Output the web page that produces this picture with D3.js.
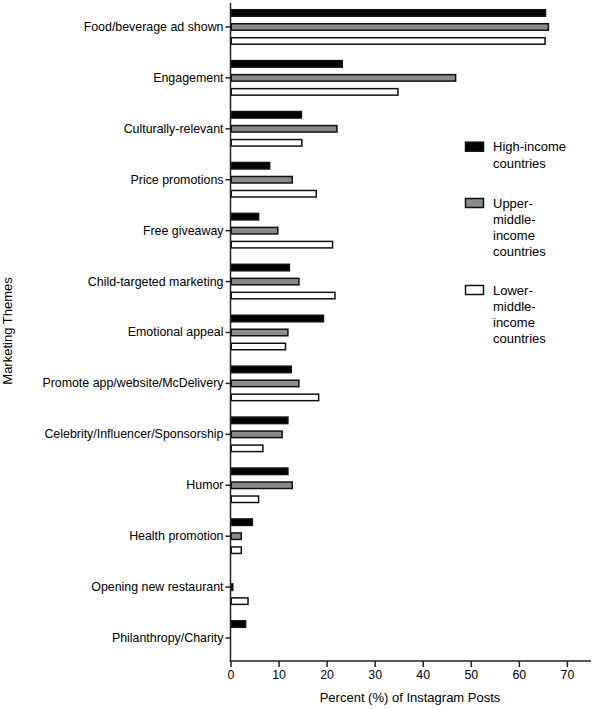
<!DOCTYPE html>
<html><head><meta charset="utf-8">
<script src="https://cdn.jsdelivr.net/npm/d3@7"></script>
<style>body{margin:0;background:#fff}svg{display:block;font-family:"Liberation Sans",Arial,sans-serif}</style>
</head><body><svg id="c" width="592" height="709"></svg>
<script>
const categories = ["Food/beverage ad shown","Engagement","Culturally-relevant","Price promotions","Free giveaway","Child-targeted marketing","Emotional appeal","Promote app/website/McDelivery","Celebrity/Influencer/Sponsorship","Humor","Health promotion","Opening new restaurant","Philanthropy/Charity"];
const seriesNames = ["High-income countries","Upper-middle-income countries","Lower-middle-income countries"];
const highIncome =  [65.7,23.4,14.9,8.3,6.0,12.4,19.5,12.8,12.1,12.1,4.7,0,3.3];
const upperMiddle = [66.3,47.0,22.3,13.0,10.0,14.4,12.1,14.4,10.9,13.0,2.4,0.6,0];
const lowerMiddle = [65.6,35.0,15.0,18.0,21.4,21.9,11.6,18.5,6.9,6.0,2.4,3.8,0];
const xTicks = [0,10,20,30,40,50,60,70];
const legendLines = [["High-income","countries"],["Upper-","middle-","income","countries"],["Lower-","middle-","income","countries"]];
const fills = ["#000000","#8a8a8a","#ffffff"];

const svg = d3.select("#c");
const x0 = 230.5, xEnd = 591, yTop = 3, yBot = 661;
const x = d3.scaleLinear().domain([0,75]).range([x0, x0 + 75*4.806]);
const y = d3.scaleBand().domain(categories).range([1.5, 663.5]);
const inner = d3.scalePoint().domain([0,1,2]).range([-14,14]);
const seriesVals = [highIncome, upperMiddle, lowerMiddle];

// bars
seriesVals.forEach((vals, s) => {
  svg.append("g").selectAll("rect").data(categories.map((c,i)=>({c, v: vals[i]})).filter(d=>d.v>0))
    .join("rect")
    .attr("x", x(0)+0.75)
    .attr("y", d => y(d.c) + y.bandwidth()/2 + inner(s) - 3.25)
    .attr("width", d => Math.max(1.5, x(d.v) - x(0) - 1.5))
    .attr("height", 6.5)
    .attr("fill", fills[s])
    .attr("stroke", "#111")
    .attr("stroke-width", 1.5);
});

// y axis
const yAxis = d3.axisLeft(y).tickSize(5).tickPadding(2).tickSizeOuter(0);
const gy = svg.append("g").attr("transform", `translate(${x0},0)`).call(yAxis);
gy.select(".domain").remove();
gy.selectAll(".tick line").attr("stroke","#222").attr("stroke-width",1.5);
gy.selectAll(".tick text").attr("font-size",12.4).attr("fill","#000").style("font-family","'Liberation Sans',Arial,sans-serif");
svg.append("line").attr("x1",x0).attr("x2",x0).attr("y1",yTop).attr("y2",yBot+0.75).attr("stroke","#222").attr("stroke-width",1.5);

// x axis
const xAxis = d3.axisBottom(x).tickValues(xTicks).tickSize(6).tickPadding(3).tickSizeOuter(0);
const gx = svg.append("g").attr("transform", `translate(0,${yBot})`).call(xAxis);
gx.select(".domain").remove();
gx.selectAll(".tick line").attr("stroke","#222").attr("stroke-width",1.5);
gx.selectAll(".tick text").attr("font-size",12.4).attr("fill","#000").style("font-family","'Liberation Sans',Arial,sans-serif");
svg.append("line").attr("x1",x0-0.75).attr("x2",xEnd).attr("y1",yBot).attr("y2",yBot).attr("stroke","#222").attr("stroke-width",1.5);

// axis titles
svg.append("text").attr("x",410).attr("y",702).attr("text-anchor","middle").attr("font-size",13).attr("fill","#000").text("Percent (%) of Instagram Posts");
svg.append("text").attr("transform","translate(12,331) rotate(-90)").attr("text-anchor","middle").attr("font-size",13).attr("fill","#000").text("Marketing Themes");

// legend
const legendTop = [146.7, 203, 290];
legendLines.forEach((lines, s) => {
  const g = svg.append("g");
  g.append("rect").attr("x",465.5).attr("y",legendTop[s]-4.5).attr("width",18).attr("height",9)
    .attr("fill",fills[s]).attr("stroke","#111").attr("stroke-width",1.5);
  lines.forEach((t,k) => {
    g.append("text").attr("x",493).attr("y",legendTop[s] + k*16.3 + 4.5).attr("font-size",13).attr("fill","#000").text(t);
  });
});
</script></body></html>
